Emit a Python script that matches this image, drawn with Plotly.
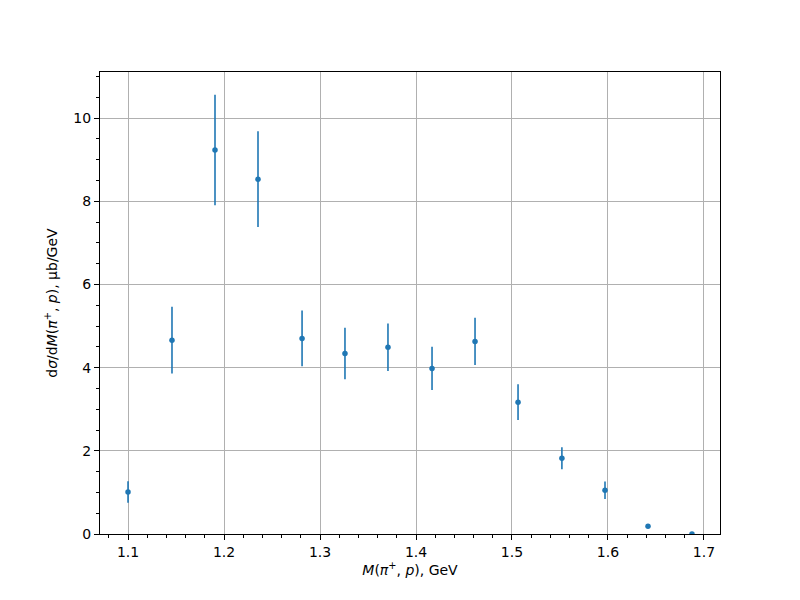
import plotly.graph_objects as go

mass = [1.1, 1.1458, 1.1906, 1.2354, 1.2813, 1.326, 1.3708, 1.4167, 1.4615, 1.5063, 1.552, 1.5969, 1.6417, 1.6875]
xsec = [1.01, 4.66, 9.23, 8.53, 4.70, 4.34, 4.49, 3.98, 4.63, 3.17, 1.82, 1.05, 0.185, 0.0]
err = [0.26, 0.80, 1.33, 1.15, 0.67, 0.62, 0.57, 0.52, 0.57, 0.43, 0.265, 0.21, 0.0, 0.0]

blue = "#1f77b4"
fig = go.Figure()
fig.add_trace(go.Scatter(
    x=mass, y=xsec, mode="markers",
    marker=dict(color=blue, size=5.5),
    error_y=dict(type="data", array=err, visible=True, color=blue, thickness=1.6, width=0),
    showlegend=False,
))

axis_common = dict(
    showline=True, linecolor="black", linewidth=1, mirror=True,
    ticks="outside", ticklen=5, tickcolor="black", tickwidth=1,
    showgrid=True, gridcolor="#b0b0b0", gridwidth=1,
    zeroline=False,
    tickfont=dict(family="DejaVu Sans", size=14, color="black"),
)

fig.update_xaxes(
    range=[1.0708, 1.7167], tick0=1.1, dtick=0.1, tickformat=".1f",
    minor=dict(dtick=0.02, tick0=1.1, ticks="outside", ticklen=3, tickcolor="black", showgrid=False),
    title=dict(text="<i>M</i>(<i>π</i><sup>+</sup>, <i>p</i>), GeV",
               font=dict(family="DejaVu Sans", size=14, color="black"), standoff=6),
    **axis_common,
)
fig.update_yaxes(
    range=[0, 11.106], tick0=0, dtick=2,
    minor=dict(dtick=0.5, tick0=0, ticks="outside", ticklen=3, tickcolor="black", showgrid=False),
    title=dict(text="d<i>σ</i>/d<i>M</i>(<i>π</i><sup>+</sup>, <i>p</i>), μb/GeV",
               font=dict(family="DejaVu Sans", size=14, color="black"), standoff=12),
    **axis_common,
)

fig.update_layout(
    width=800, height=600,
    margin=dict(l=92, r=88, t=64, b=74),
    plot_bgcolor="white", paper_bgcolor="white",
    font=dict(family="DejaVu Sans", size=14, color="black"),
)

fig.write_html("out.html")
